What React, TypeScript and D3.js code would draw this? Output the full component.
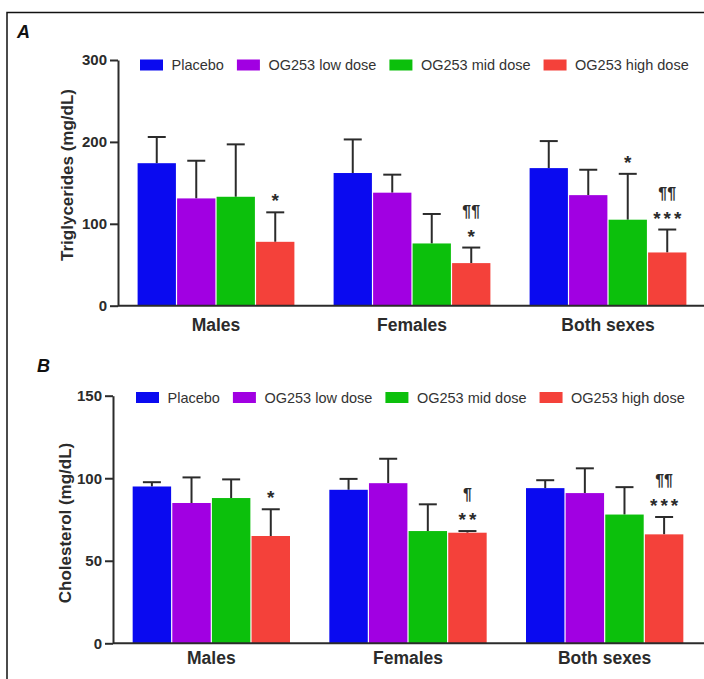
import React, { useRef, useEffect } from "react";
import * as d3 from "d3";

const groups = ["Males", "Females", "Both sexes"];
const seriesNames = ["Placebo", "OG253 low dose", "OG253 mid dose", "OG253 high dose"];
const seriesColors = ["#0a0af0", "#a100e2", "#0cc00c", "#f4413a"];

// triglycerides, mg/dL (mean and upper SD per series, across groups)
const tgMean = [
  [174, 162, 168],
  [131, 138, 135],
  [133, 76, 105],
  [78, 52, 65],
];
const tgSd = [
  [32, 41, 33],
  [46, 22, 31],
  [64, 36, 56],
  [36, 19, 28],
];
const tgTicks = [0, 100, 200, 300];
const tgMarks = [
  { group: "Males", series: 3, stars: "*", para: "" },
  { group: "Females", series: 3, stars: "*", para: "¶¶" },
  { group: "Both sexes", series: 2, stars: "*", para: "" },
  { group: "Both sexes", series: 3, stars: "***", para: "¶¶" },
];

// cholesterol, mg/dL
const chMean = [
  [95, 93, 94],
  [85, 97, 91],
  [88, 68, 78],
  [65, 67, 66],
];
const chSd = [
  [2.6, 6.6, 4.8],
  [15.5, 14.8, 15],
  [11.3, 16.2, 16.6],
  [16.2, 1, 10.5],
];
const chTicks = [0, 50, 100, 150];
const chMarks = [
  { group: "Males", series: 3, stars: "*", para: "" },
  { group: "Females", series: 3, stars: "**", para: "¶" },
  { group: "Both sexes", series: 3, stars: "***", para: "¶¶" },
];

const FONT = "'Liberation Sans', Arial, Helvetica, sans-serif";
const INK = "#2b2b2b";

type Panel = {
  letter: string;
  letterX: number;
  letterY: number;
  title: string;
  titleX: number;
  titleY: number;
  axisX: number;
  xEnd: number;
  yTop: number;
  yBottom: number;
  ticks: number[];
  means: number[][];
  sds: number[][];
  marks: { group: string; series: number; stars: string; para: string }[];
  legendX: number;
  legendY: number;
  catY: number;
};

function drawPanel(svg: any, p: Panel) {
  const g = svg.append("g");
  const x0 = d3.scaleBand().domain(groups).range([p.axisX, p.xEnd]).paddingInner(0.2).paddingOuter(0.1);
  const x1 = d3
    .scaleBand()
    .domain(seriesNames.map((_, i) => String(i)))
    .range([0, x0.bandwidth()])
    .paddingInner(0.03);
  const y = d3
    .scaleLinear()
    .domain([0, p.ticks[p.ticks.length - 1]])
    .range([p.yBottom, p.yTop]);

  // bars + upper error bars
  seriesNames.forEach((s, si) => {
    groups.forEach((grp, gi) => {
      const bx = (x0(grp) as number) + (x1(String(si)) as number);
      const m = p.means[si][gi];
      const up = m + p.sds[si][gi];
      const cx = bx + x1.bandwidth() / 2;
      g.append("line")
        .attr("x1", cx)
        .attr("x2", cx)
        .attr("y1", y(m))
        .attr("y2", y(up))
        .attr("stroke", INK)
        .attr("stroke-width", 2);
      g.append("line")
        .attr("x1", cx - 9)
        .attr("x2", cx + 9)
        .attr("y1", y(up))
        .attr("y2", y(up))
        .attr("stroke", INK)
        .attr("stroke-width", 2);
      g.append("rect")
        .attr("x", bx)
        .attr("y", y(m))
        .attr("width", x1.bandwidth())
        .attr("height", y(0) - y(m))
        .attr("fill", seriesColors[si]);
    });
  });

  // significance marks
  p.marks.forEach((mk) => {
    const gi = groups.indexOf(mk.group);
    const cx = (x0(mk.group) as number) + (x1(String(mk.series)) as number) + x1.bandwidth() / 2;
    const capY = y(p.means[mk.series][gi] + p.sds[mk.series][gi]);
    g.append("text")
      .attr("x", cx + 1.5)
      .attr("y", capY - 5)
      .attr("text-anchor", "middle")
      .attr("font-family", FONT)
      .attr("font-weight", "bold")
      .attr("font-size", 19)
      .attr("letter-spacing", 3)
      .attr("fill", INK)
      .text(mk.stars);
    if (mk.para) {
      g.append("text")
        .attr("x", cx)
        .attr("y", capY - 31)
        .attr("text-anchor", "middle")
        .attr("font-family", FONT)
        .attr("font-weight", "bold")
        .attr("font-size", 16)
        .attr("fill", INK)
        .text(mk.para);
    }
  });

  // y axis
  const ax = g
    .append("g")
    .attr("transform", `translate(${p.axisX},0)`)
    .call(d3.axisLeft(y).tickValues(p.ticks).tickSize(8).tickSizeOuter(0).tickPadding(3));
  ax.select(".domain").attr("stroke", INK).attr("stroke-width", 2);
  ax.selectAll(".tick line").attr("stroke", INK).attr("stroke-width", 2);
  ax.selectAll(".tick text")
    .attr("font-family", FONT)
    .attr("font-weight", "bold")
    .attr("font-size", 15)
    .attr("fill", INK);

  // x axis baseline
  g.append("line")
    .attr("x1", p.axisX)
    .attr("x2", 704)
    .attr("y1", y(0))
    .attr("y2", y(0))
    .attr("stroke", INK)
    .attr("stroke-width", 2);

  g.selectAll(".cat")
    .data(groups)
    .enter()
    .append("text")
    .attr("x", (d: string) => (x0(d) as number) + x0.bandwidth() / 2)
    .attr("y", p.catY)
    .attr("text-anchor", "middle")
    .attr("font-family", FONT)
    .attr("font-weight", "bold")
    .attr("font-size", 17.5)
    .attr("fill", INK)
    .text((d: string) => d);

  // y title
  g.append("text")
    .attr("transform", `translate(${p.titleX},${p.titleY}) rotate(-90)`)
    .attr("text-anchor", "middle")
    .attr("dy", "0.35em")
    .attr("font-family", FONT)
    .attr("font-weight", "bold")
    .attr("font-size", 17)
    .attr("fill", INK)
    .text(p.title);

  // panel letter
  g.append("text")
    .attr("x", p.letterX)
    .attr("y", p.letterY)
    .attr("font-family", FONT)
    .attr("font-weight", "bold")
    .attr("font-style", "italic")
    .attr("font-size", 18)
    .attr("fill", "#111")
    .text(p.letter);

  // legend
  let lx = p.legendX;
  seriesNames.forEach((s, si) => {
    g.append("rect")
      .attr("x", lx)
      .attr("y", p.legendY - 5.5)
      .attr("width", 23)
      .attr("height", 11)
      .attr("fill", seriesColors[si]);
    const t = g
      .append("text")
      .attr("x", lx + 31.5)
      .attr("y", p.legendY)
      .attr("dy", "0.35em")
      .attr("font-family", FONT)
      .attr("font-size", 14.5)
      .attr("fill", "#333")
      .text(s);
    const w = (t.node() as SVGTextElement).getComputedTextLength();
    lx = lx + 31.5 + w + 13;
  });
}

const App = () => {
  const svgRef = useRef<SVGSVGElement>(null);

  useEffect(() => {
    const svg = d3.select(svgRef.current);
    svg.selectAll("*").remove();

    svg
      .append("rect")
      .attr("x", 7)
      .attr("y", 12.5)
      .attr("width", 720)
      .attr("height", 700)
      .attr("fill", "none")
      .attr("stroke", "#111")
      .attr("stroke-width", 1.5);

    drawPanel(svg, {
      letter: "A",
      letterX: 17,
      letterY: 38,
      title: "Triglycerides (mg/dL)",
      titleX: 67,
      titleY: 175,
      axisX: 118,
      xEnd: 706,
      yTop: 60,
      yBottom: 305.7,
      ticks: tgTicks,
      means: tgMean,
      sds: tgSd,
      marks: tgMarks,
      legendX: 140,
      legendY: 65,
      catY: 331,
    });

    drawPanel(svg, {
      letter: "B",
      letterX: 37,
      letterY: 372,
      title: "Cholesterol (mg/dL)",
      titleX: 65,
      titleY: 523,
      axisX: 113,
      xEnd: 703,
      yTop: 395.7,
      yBottom: 643.3,
      ticks: chTicks,
      means: chMean,
      sds: chSd,
      marks: chMarks,
      legendX: 136,
      legendY: 397.5,
      catY: 664,
    });
  }, []);

  return (
    <svg
      ref={svgRef}
      width={704}
      height={679}
      style={{ position: "absolute", left: 0, top: 0, background: "#fff" }}
    />
  );
};

export default App;
